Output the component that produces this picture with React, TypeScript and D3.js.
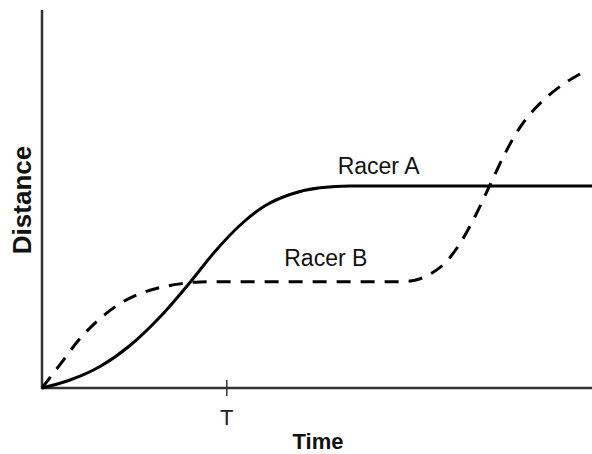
import React from "react";
import * as d3 from "d3";

const racerA: [number, number][] = [
  [0, 0], [5.09, 2.12], [10.55, 5.69], [16, 11.24], [21.45, 18.78], [26.9, 27.91],
  [31.45, 36.11], [36, 43.06], [40.55, 48.21], [45.09, 51.19], [50.55, 53.0],
  [56, 53.44], [100, 53.44],
];
const racerB: [number, number][] = [
  [0, 0], [3.27, 6.19], [6.91, 13.07], [10.55, 18.36], [14.18, 22.33], [17.82, 24.97],
  [21.45, 26.56], [25.09, 27.55], [28.73, 28.05], [32.4, 28.1], [65.09, 28.1],
  [67.82, 28.52], [70.55, 30.11], [73.27, 33.07], [76, 38.23], [78.73, 45.37],
  [81.45, 53.7], [84.18, 62.04], [86.91, 68.97], [89.64, 73.94], [92.36, 77.7],
  [95.09, 80.69], [97.82, 83.07],
];
const tickValues = [33.6];
const tickLabels = ["T"];
const seriesLabels = [
  { name: "Racer A", x: 61.2, y: 56.6 },
  { name: "Racer B", x: 51.6, y: 32.3 },
];

export default function App() {
  const W = 592, H = 454;
  const x = d3.scaleLinear().domain([0, 100]).range([42, 592]);
  const y = d3.scaleLinear().domain([0, 100]).range([388, 10]);
  const line = d3.line<[number, number]>().x(d => x(d[0])).y(d => y(d[1])).curve(d3.curveMonotoneX);
  const font = "Arial, 'Liberation Sans', Helvetica, sans-serif";
  return (
    <svg width={W} height={H} style={{ position: "absolute", left: 0, top: 0, background: "#fff" }}>
      <line x1={x(0)} x2={x(0)} y1={y(100)} y2={y(0) + 1} stroke="#333" strokeWidth={2.5} />
      <line x1={x(0) - 1} x2={x(100)} y1={y(0)} y2={y(0)} stroke="#333" strokeWidth={2.5} />
      {tickValues.map((t, i) => (
        <g key={i}>
          <line x1={x(t)} x2={x(t)} y1={y(0) - 8} y2={y(0) + 8} stroke="#333" strokeWidth={1.5} />
          <text x={x(t)} y={425} textAnchor="middle" fontFamily={font} fontSize={22} fill="#222">{tickLabels[i]}</text>
        </g>
      ))}
      <path d={line(racerA) || ""} fill="none" stroke="#000" strokeWidth={3} />
      <path d={line(racerB) || ""} fill="none" stroke="#000" strokeWidth={3} strokeDasharray="14 10" />
      {seriesLabels.map(s => (
        <text key={s.name} x={x(s.x)} y={y(s.y)} textAnchor="middle" fontFamily={font} fontSize={23} fill="#111">{s.name}</text>
      ))}
      <text x={318} y={449} textAnchor="middle" fontFamily={font} fontSize={22} fontWeight="bold" fill="#111">Time</text>
      <text transform="translate(31,200) rotate(-90)" textAnchor="middle" fontFamily={font} fontSize={26} fontWeight="bold" fill="#111">Distance</text>
    </svg>
  );
}
